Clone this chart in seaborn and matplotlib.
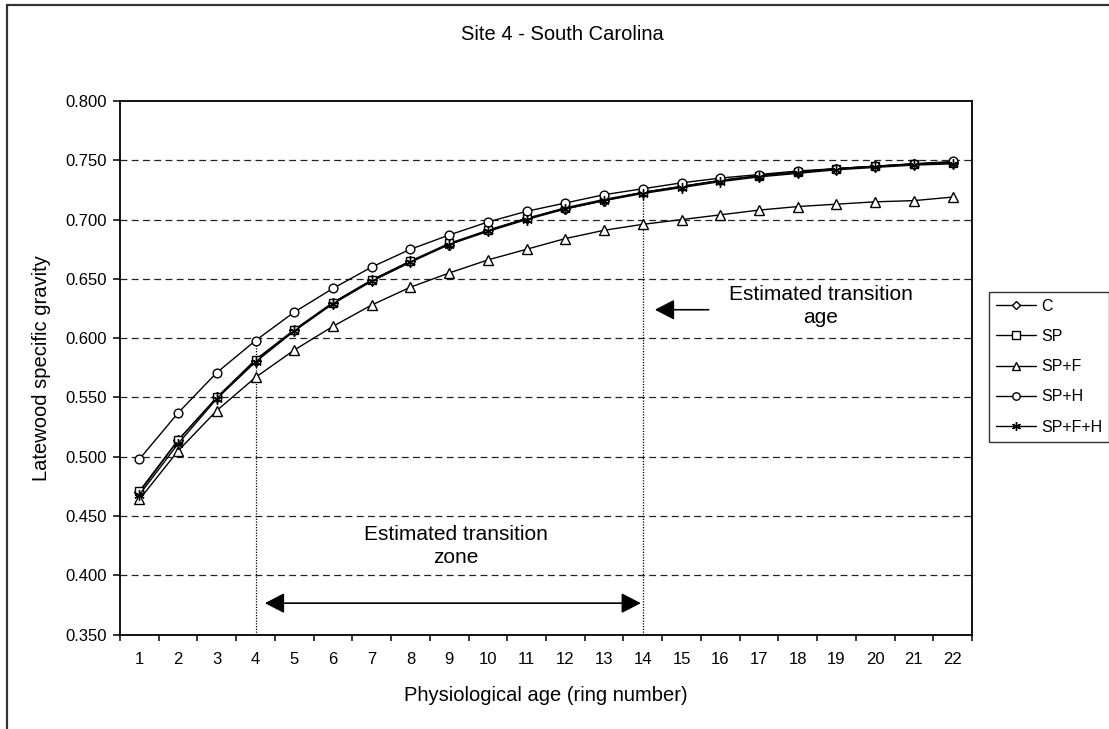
import numpy as np
import pandas as pd
import matplotlib
matplotlib.use("Agg")
import matplotlib.pyplot as plt
import seaborn as sns
from matplotlib.patches import Rectangle
from matplotlib.lines import Line2D

# ---------------- data ----------------
ages = list(range(1, 23))
series_names = ["C", "SP", "SP+F", "SP+H", "SP+F+H"]
sg_C = [0.470, 0.514, 0.550, 0.581, 0.607, 0.630, 0.649, 0.665, 0.679, 0.691, 0.701,
        0.709, 0.716, 0.723, 0.728, 0.733, 0.737, 0.740, 0.743, 0.745, 0.747, 0.748]
sg_SP = [0.471, 0.514, 0.550, 0.582, 0.607, 0.630, 0.649, 0.665, 0.680, 0.691, 0.701,
         0.710, 0.717, 0.723, 0.728, 0.733, 0.737, 0.740, 0.743, 0.745, 0.747, 0.748]
sg_SPF = [0.464, 0.505, 0.539, 0.567, 0.590, 0.610, 0.628, 0.643, 0.655, 0.666, 0.675,
          0.684, 0.691, 0.696, 0.700, 0.704, 0.708, 0.711, 0.713, 0.715, 0.716, 0.719]
sg_SPH = [0.498, 0.537, 0.571, 0.598, 0.622, 0.642, 0.660, 0.675, 0.687, 0.698, 0.707,
          0.714, 0.721, 0.726, 0.731, 0.735, 0.738, 0.741, 0.743, 0.745, 0.747, 0.749]
sg_SPFH = [0.468, 0.511, 0.549, 0.580, 0.606, 0.629, 0.648, 0.664, 0.679, 0.690, 0.700,
           0.709, 0.716, 0.722, 0.727, 0.732, 0.736, 0.739, 0.742, 0.744, 0.746, 0.747]
series_values = [sg_C, sg_SP, sg_SPF, sg_SPH, sg_SPFH]
y_ticks = [0.350, 0.400, 0.450, 0.500, 0.550, 0.600, 0.650, 0.700, 0.750, 0.800]
transition_ages = [4, 14]

title = "Site 4 - South Carolina"
x_label = "Physiological age (ring number)"
y_label = "Latewood specific gravity"

# ---------------- style ----------------
sns.set_theme(style="white")
plt.rcParams["font.family"] = ["Liberation Sans", "DejaVu Sans"]
plt.rcParams["text.color"] = "black"
plt.rcParams["axes.labelcolor"] = "black"
plt.rcParams["xtick.color"] = "black"
plt.rcParams["ytick.color"] = "black"

W, H = 1109, 729
fig = plt.figure(figsize=(W / 100, H / 100), dpi=100)
fig.patch.set_facecolor("white")
ax = fig.add_axes([120 / W, 1 - 634.7 / H, (972 - 120) / W, (634.7 - 101) / H])

markers = {"C": "D", "SP": "s", "SP+F": "^", "SP+H": "o", "SP+F+H": (6, 2, 0)}
msizes = {"C": 5.0, "SP": 6.0, "SP+F": 7.5, "SP+H": 6.3, "SP+F+H": 7.5}

df = pd.DataFrame({
    "age": np.tile(ages, len(series_names)),
    "sg": np.concatenate(series_values),
    "treatment": np.repeat(series_names, len(ages)),
})

for name in series_names:
    sub = df[df["treatment"] == name]
    sns.lineplot(data=sub, x="age", y="sg", ax=ax, color="black", lw=1.0,
                 marker=markers[name], markersize=msizes[name],
                 markerfacecolor="white", markeredgecolor="black",
                 markeredgewidth=1.0, label=name, legend=False, zorder=3)

# transition lines (dotted) from axis up to SP+H curve
sph_at = [sg_SPH[ages.index(a)] for a in transition_ages]
ax.vlines(transition_ages, 0.35, sph_at, colors="black", linestyles=(0, (1, 1.2)),
          lw=0.9, zorder=2)

# axes limits / ticks
ax.set_xlim(0.5, 22.5)
ax.set_ylim(0.35, 0.80)
ax.set_xticks(ages)
ax.set_xticklabels([str(a) for a in ages])
ax.set_xticks(np.arange(0.5, 23, 1), minor=True)
ax.tick_params(axis="x", which="major", length=0, pad=12.5, labelsize=12)
ax.tick_params(axis="x", which="minor", length=4, width=1.1, direction="out",
               bottom=True)
ax.set_yticks(y_ticks)
ax.set_yticklabels([f"{v:.3f}" for v in y_ticks])
ax.tick_params(axis="y", which="major", length=5, width=1.1, direction="out",
               left=True, pad=4.5, labelsize=12)

# grid (dashed)
for v in y_ticks[1:-1]:
    ax.axhline(v, color="#222222", lw=0.9, ls=(0, (5.5, 3.5)), zorder=1)

for s in ax.spines.values():
    s.set_visible(True)
    s.set_color("black")
    s.set_linewidth(1.3)

ax.set_xlabel(x_label, fontsize=14.5)
ax.set_ylabel(y_label, fontsize=14.5)
ax.xaxis.set_label_coords(0.5, -0.097)
ax.yaxis.set_label_coords(-0.0805, 0.5)

# annotations
ax.annotate("", xy=(4.24, 0.3766), xytext=(13.95, 0.3766),
            arrowprops=dict(arrowstyle="<|-|>,head_length=1.2,head_width=0.62",
                            color="black", lw=1.2, shrinkA=0, shrinkB=0,
                            mutation_scale=10))
ax.text(9.18, 0.425, "Estimated transition\nzone", ha="center", va="center",
        fontsize=15, linespacing=1.3)
ax.annotate("", xy=(14.31, 0.624), xytext=(15.7, 0.624),
            arrowprops=dict(arrowstyle="-|>,head_length=1.2,head_width=0.62",
                            color="black", lw=1.2, shrinkA=0, shrinkB=0,
                            mutation_scale=10))
ax.text(18.6, 0.627, "Estimated transition\nage", ha="center", va="center",
        fontsize=15, linespacing=1.3)

# title
fig.text(562 / W, 1 - 35 / H, title, ha="center", va="center", fontsize=14.5)

# legend
handles = [Line2D([0], [0], color="black", lw=1.0, marker=markers[n],
                  markersize=msizes[n] * 0.85, markerfacecolor="white",
                  markeredgecolor="black", markeredgewidth=1.0)
           for n in series_names]
leg = fig.legend(handles, series_names, loc="upper left",
                 bbox_to_anchor=(989 / W, 1 - 291.7 / H),
                 bbox_transform=fig.transFigure, frameon=True, fancybox=False,
                 edgecolor="black", borderaxespad=0, handlelength=2.5,
                 handletextpad=0.3, labelspacing=0.95, borderpad=0.45,
                 fontsize=11.5)
leg.get_frame().set_linewidth(1.0)

# outer chart frame (extends past right / bottom edge)
fig.add_artist(Rectangle((6.5 / W, -0.05), 1.2, 1.05 - 4.5 / H,
                         transform=fig.transFigure, fill=False,
                         edgecolor="#333333", lw=1.6))

fig.savefig("out.png", dpi=100, facecolor="white")
